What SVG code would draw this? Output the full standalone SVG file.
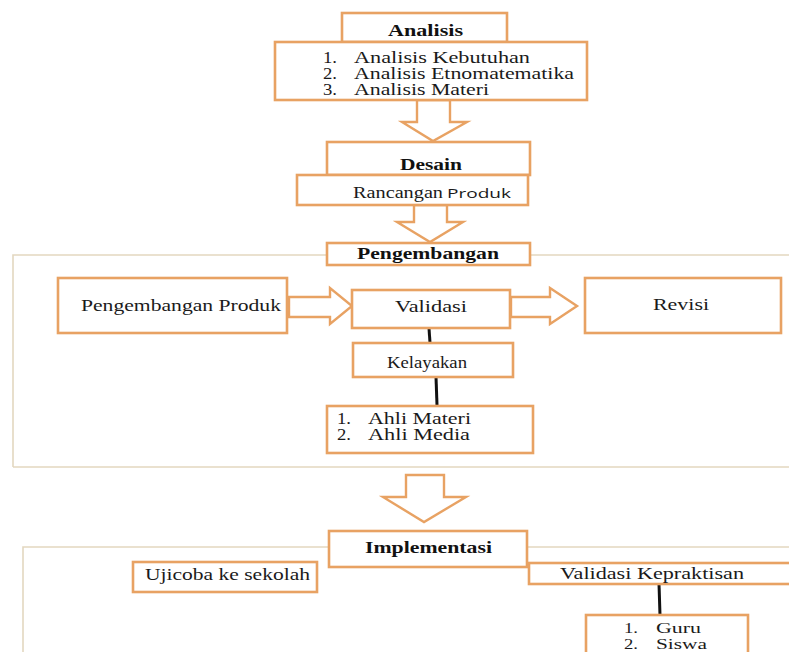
<svg xmlns="http://www.w3.org/2000/svg" width="789" height="652" viewBox="0 0 789 652">
<style>
.box{fill:#fff;stroke:#E8A263;stroke-width:2.6}
.frame{fill:none;stroke:#E3D7C0;stroke-width:1.6}
.barrow{fill:#fff;stroke:#E8A263;stroke-width:2.4;stroke-linejoin:miter}
.link{stroke:#111;stroke-width:3;fill:none}
.t{font-family:"Liberation Serif","Times New Roman",serif;font-size:16px;fill:#1a1a1a}
.g{font-family:"Liberation Serif","Times New Roman",serif;font-size:14px;fill:#1a1a1a}
.h{font-family:"Liberation Serif","Times New Roman",serif;font-size:16px;font-weight:bold;fill:#111}
.s{font-family:"Open Sans","Liberation Sans",Arial,sans-serif;font-size:13px;fill:#1a1a1a}
</style>
<rect width="789" height="652" fill="#fff"/>
<g id="frames">
<path class="frame" d="M13 467 L13 255 L789 255 M13 467 L789 467"/>
<path class="frame" d="M23 652 L23 547 L789 547"/>
</g>
<g id="connectors">
<polygon class="barrow" points="417,100 450,100 450,122 467,122 433,141 402,122 417,122"/>
<polygon class="barrow" points="414,205 447,205 447,222 463,222 430,242 397,222 414,222"/>
<polygon class="barrow" points="406,475 444,475 444,497 466,497 424,522 383,497 406,497"/>
<polygon class="barrow" points="289,297 330,297 330,288 352,306 330,324 330,317 289,317"/>
<polygon class="barrow" points="511,297 550,297 550,288 577,306 550,324 550,317 511,317"/>
<line class="link" x1="429" y1="328" x2="430" y2="343"/>
<line class="link" x1="436" y1="377" x2="437" y2="405"/>
<line class="link" x1="659" y1="584" x2="660" y2="615"/>
</g>
<g id="analisis">
<rect class="box" x="342" y="13" width="165" height="29"/>
<text class="h" x="388" y="36" textLength="75" lengthAdjust="spacingAndGlyphs">Analisis</text>
</g>
<g id="analisis-list">
<rect class="box" x="275" y="42" width="312" height="58"/>
<text class="t" x="323" y="63" textLength="14" lengthAdjust="spacingAndGlyphs">1.</text>
<text class="t" x="354" y="63" textLength="176" lengthAdjust="spacingAndGlyphs">Analisis Kebutuhan</text>
<text class="t" x="323" y="79" textLength="14" lengthAdjust="spacingAndGlyphs">2.</text>
<text class="t" x="354" y="79" textLength="220" lengthAdjust="spacingAndGlyphs">Analisis Etnomatematika</text>
<text class="t" x="323" y="95" textLength="14" lengthAdjust="spacingAndGlyphs">3.</text>
<text class="t" x="354" y="95" textLength="135" lengthAdjust="spacingAndGlyphs">Analisis Materi</text>
</g>
<g id="desain">
<rect class="box" x="327" y="142" width="203" height="33"/>
<text class="h" x="400" y="170" textLength="62" lengthAdjust="spacingAndGlyphs">Desain</text>
</g>
<g id="rancangan">
<rect class="box" x="297" y="175" width="231" height="30"/>
<text class="t" x="353" y="198" textLength="90" lengthAdjust="spacingAndGlyphs">Rancangan</text>
<text class="s" x="447" y="198" textLength="64" lengthAdjust="spacingAndGlyphs">Produk</text>
</g>
<g id="pengembangan">
<rect class="box" x="327" y="243" width="203" height="22"/>
<text class="h" x="357" y="259" textLength="142" lengthAdjust="spacingAndGlyphs">Pengembangan</text>
</g>
<g id="pengembangan-produk">
<rect class="box" x="58" y="278" width="229" height="55"/>
<text class="t" x="81" y="311" textLength="200" lengthAdjust="spacingAndGlyphs">Pengembangan Produk</text>
</g>
<g id="validasi">
<rect class="box" x="352" y="290" width="158" height="38"/>
<text class="t" x="395" y="312" textLength="72" lengthAdjust="spacingAndGlyphs">Validasi</text>
</g>
<g id="revisi">
<rect class="box" x="585" y="278" width="196" height="55"/>
<text class="t" x="653" y="310" textLength="56" lengthAdjust="spacingAndGlyphs">Revisi</text>
</g>
<g id="kelayakan">
<rect class="box" x="353" y="343" width="160" height="34"/>
<text class="t" x="387" y="368" textLength="80" lengthAdjust="spacingAndGlyphs">Kelayakan</text>
</g>
<g id="ahli">
<rect class="box" x="327" y="406" width="206" height="47"/>
<text class="t" x="337" y="424" textLength="14" lengthAdjust="spacingAndGlyphs">1.</text>
<text class="t" x="368" y="424" textLength="103" lengthAdjust="spacingAndGlyphs">Ahli Materi</text>
<text class="t" x="337" y="440" textLength="14" lengthAdjust="spacingAndGlyphs">2.</text>
<text class="t" x="368" y="440" textLength="102" lengthAdjust="spacingAndGlyphs">Ahli Media</text>
</g>
<g id="implementasi">
<rect class="box" x="329" y="531" width="198" height="36"/>
<text class="h" x="365" y="553" textLength="127" lengthAdjust="spacingAndGlyphs">Implementasi</text>
</g>
<g id="ujicoba">
<rect class="box" x="133" y="562" width="184" height="30"/>
<text class="t" x="145" y="580" textLength="165" lengthAdjust="spacingAndGlyphs">Ujicoba ke sekolah</text>
</g>
<g id="validasi-kepraktisan">
<rect class="box" x="529" y="563" width="270" height="21"/>
<text class="t" x="560" y="579" textLength="184" lengthAdjust="spacingAndGlyphs">Validasi Kepraktisan</text>
</g>
<g id="guru-siswa">
<rect class="box" x="586" y="615" width="162" height="50"/>
<text class="g" x="624" y="633" textLength="14" lengthAdjust="spacingAndGlyphs">1.</text>
<text class="g" x="656" y="633" textLength="45" lengthAdjust="spacingAndGlyphs">Guru</text>
<text class="g" x="624" y="649" textLength="14" lengthAdjust="spacingAndGlyphs">2.</text>
<text class="g" x="656" y="649" textLength="51" lengthAdjust="spacingAndGlyphs">Siswa</text>
</g>
</svg>
